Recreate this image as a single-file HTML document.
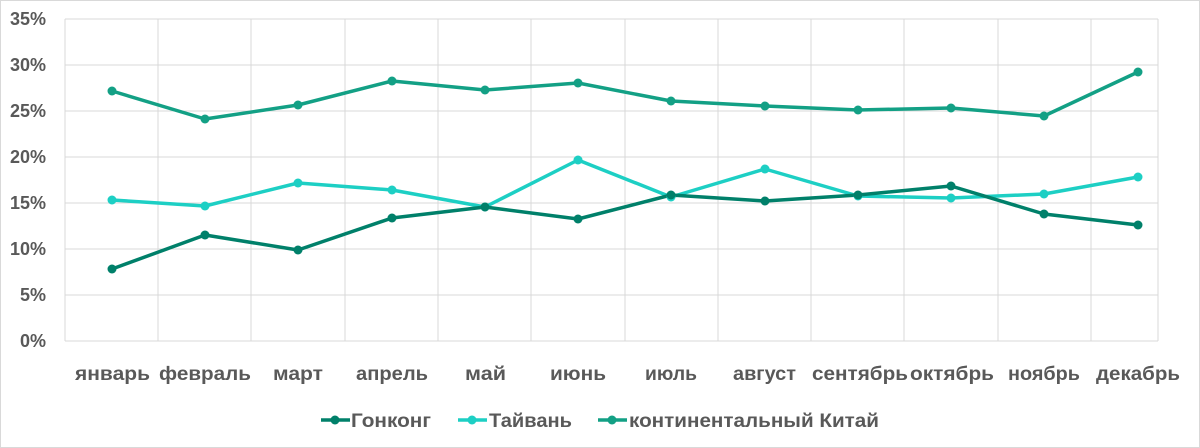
<!DOCTYPE html>
<html><head><meta charset="utf-8"><style>
body{margin:0;background:#fff;}
svg{display:block;font-family:"Liberation Sans",sans-serif;font-weight:bold;fill:#595959;}
</style></head><body>
<svg width="1200" height="448" viewBox="0 0 1200 448">
<rect x="0.5" y="0.5" width="1199" height="447" fill="#fff" stroke="#d9d9d9"/>
<g stroke="#d9d9d9" stroke-width="1">
<line x1="65" y1="19" x2="1158" y2="19"/><line x1="65" y1="65" x2="1158" y2="65"/>
<line x1="65" y1="111" x2="1158" y2="111"/><line x1="65" y1="157" x2="1158" y2="157"/>
<line x1="65" y1="203" x2="1158" y2="203"/><line x1="65" y1="249" x2="1158" y2="249"/>
<line x1="65" y1="295" x2="1158" y2="295"/>
<line x1="65" y1="19" x2="65" y2="341"/><line x1="158" y1="19" x2="158" y2="341"/>
<line x1="251" y1="19" x2="251" y2="341"/><line x1="345" y1="19" x2="345" y2="341"/>
<line x1="438" y1="19" x2="438" y2="341"/><line x1="531" y1="19" x2="531" y2="341"/>
<line x1="625" y1="19" x2="625" y2="341"/><line x1="718" y1="19" x2="718" y2="341"/>
<line x1="811" y1="19" x2="811" y2="341"/><line x1="904" y1="19" x2="904" y2="341"/>
<line x1="998" y1="19" x2="998" y2="341"/><line x1="1091" y1="19" x2="1091" y2="341"/>
<line x1="1158" y1="19" x2="1158" y2="341"/>
<line x1="65" y1="341" x2="1158" y2="341"/>
</g>
<g font-size="18" text-anchor="end">
<text x="46" y="25">35%</text><text x="46" y="71">30%</text><text x="46" y="117">25%</text>
<text x="46" y="163">20%</text><text x="46" y="209">15%</text><text x="46" y="255">10%</text>
<text x="46" y="301">5%</text><text x="46" y="347">0%</text>
</g>
<g font-size="19">
<text x="75" y="380" textLength="75" lengthAdjust="spacingAndGlyphs">январь</text>
<text x="159" y="380" textLength="92" lengthAdjust="spacingAndGlyphs">февраль</text>
<text x="273" y="380" textLength="50" lengthAdjust="spacingAndGlyphs">март</text>
<text x="356" y="380" textLength="72" lengthAdjust="spacingAndGlyphs">апрель</text>
<text x="465" y="380" textLength="41" lengthAdjust="spacingAndGlyphs">май</text>
<text x="550" y="380" textLength="56" lengthAdjust="spacingAndGlyphs">июнь</text>
<text x="645" y="380" textLength="52" lengthAdjust="spacingAndGlyphs">июль</text>
<text x="733" y="380" textLength="63" lengthAdjust="spacingAndGlyphs">август</text>
<text x="812" y="380" textLength="96" lengthAdjust="spacingAndGlyphs">сентябрь</text>
<text x="910" y="380" textLength="84" lengthAdjust="spacingAndGlyphs">октябрь</text>
<text x="1008" y="380" textLength="72" lengthAdjust="spacingAndGlyphs">ноябрь</text>
<text x="1096" y="380" textLength="84" lengthAdjust="spacingAndGlyphs">декабрь</text>
</g>
<g fill="none" stroke-width="3.5" stroke-linejoin="round">
<polyline stroke="#13a085" points="112,91 205,119 298,105 392,81 485,90 578,83 671,101 765,106 858,110 951,108 1044,116 1138,72"/>
<polyline stroke="#1dcfc4" points="112,200 205,206 298,183 392,190 485,207 578,160 671,197 765,169 858,196 951,198 1044,194 1138,177"/>
<polyline stroke="#00806a" points="112,269 205,235 298,250 392,218 485,207 578,219 671,195 765,201 858,195 951,186 1044,214 1138,225"/>
</g>
<g fill="#13a085"><circle cx="112" cy="91" r="4.5"/><circle cx="205" cy="119" r="4.5"/><circle cx="298" cy="105" r="4.5"/><circle cx="392" cy="81" r="4.5"/><circle cx="485" cy="90" r="4.5"/><circle cx="578" cy="83" r="4.5"/><circle cx="671" cy="101" r="4.5"/><circle cx="765" cy="106" r="4.5"/><circle cx="858" cy="110" r="4.5"/><circle cx="951" cy="108" r="4.5"/><circle cx="1044" cy="116" r="4.5"/><circle cx="1138" cy="72" r="4.5"/></g>
<g fill="#1dcfc4"><circle cx="112" cy="200" r="4.5"/><circle cx="205" cy="206" r="4.5"/><circle cx="298" cy="183" r="4.5"/><circle cx="392" cy="190" r="4.5"/><circle cx="485" cy="207" r="4.5"/><circle cx="578" cy="160" r="4.5"/><circle cx="671" cy="197" r="4.5"/><circle cx="765" cy="169" r="4.5"/><circle cx="858" cy="196" r="4.5"/><circle cx="951" cy="198" r="4.5"/><circle cx="1044" cy="194" r="4.5"/><circle cx="1138" cy="177" r="4.5"/></g>
<g fill="#00806a"><circle cx="112" cy="269" r="4.5"/><circle cx="205" cy="235" r="4.5"/><circle cx="298" cy="250" r="4.5"/><circle cx="392" cy="218" r="4.5"/><circle cx="485" cy="207" r="4.5"/><circle cx="578" cy="219" r="4.5"/><circle cx="671" cy="195" r="4.5"/><circle cx="765" cy="201" r="4.5"/><circle cx="858" cy="195" r="4.5"/><circle cx="951" cy="186" r="4.5"/><circle cx="1044" cy="214" r="4.5"/><circle cx="1138" cy="225" r="4.5"/></g>
<g stroke-width="3.5">
<line x1="321" y1="420" x2="350" y2="420" stroke="#00806a"/><circle cx="335" cy="420" r="4.5" fill="#00806a"/>
<line x1="458" y1="420" x2="487" y2="420" stroke="#1dcfc4"/><circle cx="472" cy="420" r="4.5" fill="#1dcfc4"/>
<line x1="598" y1="420" x2="627" y2="420" stroke="#13a085"/><circle cx="612" cy="420" r="4.5" fill="#13a085"/>
</g>
<g font-size="19">
<text x="351" y="427" textLength="80" lengthAdjust="spacingAndGlyphs">Гонконг</text>
<text x="489" y="427" textLength="83" lengthAdjust="spacingAndGlyphs">Тайвань</text>
<text x="629" y="427" textLength="250" lengthAdjust="spacingAndGlyphs">континентальный Китай</text>
</g>
</svg>
</body></html>
